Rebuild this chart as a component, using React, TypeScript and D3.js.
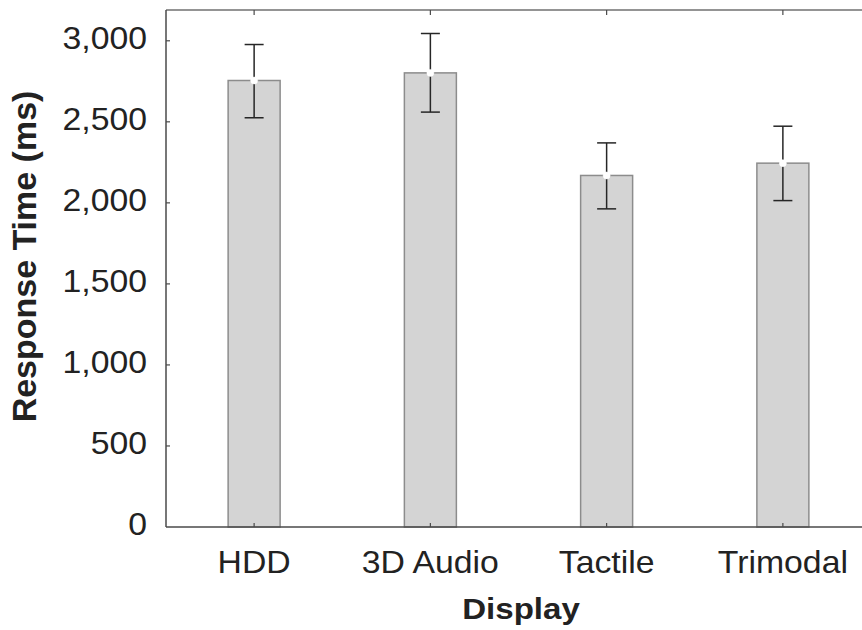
import React from "react";
import * as d3 from "d3";

const categories = ["HDD", "3D Audio", "Tactile", "Trimodal"];
const means = [2755, 2802, 2169, 2245];
const upper = [2977, 3045, 2370, 2473];
const lower = [2525, 2560, 1963, 2014];
const yTicks = [0, 500, 1000, 1500, 2000, 2500, 3000];

const W = 862;
const H = 630;
const left = 166;
const right = 871;
const top = 10;
const bottom = 527;
const FONT = "'Liberation Sans', Arial, Helvetica, sans-serif";

export default function App() {
  const x = d3.scaleBand<string>().domain(categories).range([left, right]).paddingInner(0.705).paddingOuter(0.3525);
  const y = d3.scaleLinear().domain([0, 3190]).range([bottom, top]);
  const fmt = d3.format(",");
  const bw = x.bandwidth();
  const axisColor = "#4a4a4a";
  return (
    <svg width={W} height={H} style={{ position: "absolute", left: 0, top: 0, background: "#fff" }}>
      {/* bars */}
      {categories.map((c, i) => (
        <rect key={c} x={x(c)!} y={y(means[i])} width={bw} height={bottom - y(means[i])}
          fill="#d4d4d4" stroke="#8c8c8c" strokeWidth={1.5} />
      ))}
      {/* error bars */}
      {categories.map((c, i) => {
        const cx = x(c)! + bw / 2;
        return (
          <g key={c} stroke="#262626" strokeWidth={1.5}>
            <line x1={cx} x2={cx} y1={y(upper[i])} y2={y(lower[i])} />
            <line x1={cx - 9.5} x2={cx + 9.5} y1={y(upper[i])} y2={y(upper[i])} />
            <line x1={cx - 9.5} x2={cx + 9.5} y1={y(lower[i])} y2={y(lower[i])} />
            <circle cx={cx} cy={y(means[i])} r={3.5} fill="#fff" stroke="#fff" strokeWidth={0.5} />
          </g>
        );
      })}
      {/* frame */}
      <line x1={left} x2={W} y1={top} y2={top} stroke="#707070" strokeWidth={1.5} />
      <line x1={left} x2={W} y1={bottom} y2={bottom} stroke={axisColor} strokeWidth={1.5} />
      <line x1={left} x2={left} y1={top} y2={bottom} stroke={axisColor} strokeWidth={1.5} />
      {/* y ticks */}
      {yTicks.map((t) => (
        <g key={t}>
          {t > 0 && <line x1={left} x2={left + 4} y1={y(t)} y2={y(t)} stroke={axisColor} strokeWidth={1.2} />}
          <text transform={`translate(${left - 19},${y(t) + 8}) scale(1.09,1)`} textAnchor="end"
            fontFamily={FONT} fontSize={31} fill="#222">{fmt(t)}</text>
        </g>
      ))}
      {/* x ticks */}
      {categories.map((c) => {
        const cx = x(c)! + bw / 2;
        return (
          <g key={c}>
            <line x1={cx} x2={cx} y1={top} y2={top + 5} stroke={axisColor} strokeWidth={1.2} />
            <line x1={cx} x2={cx} y1={bottom} y2={bottom - 4} stroke={axisColor} strokeWidth={1.2} />
            <text transform={`translate(${cx},572.5) scale(1.09,1)`} textAnchor="middle"
              fontFamily={FONT} fontSize={31} fill="#222">{c}</text>
          </g>
        );
      })}
      {/* axis titles */}
      <text transform={`translate(521,618.5) scale(1.14,1)`} textAnchor="middle" fontFamily={FONT}
        fontSize={29} fontWeight="bold" fill="#222">Display</text>
      <text transform={`translate(36,256.5) rotate(-90) scale(1.03,1)`} textAnchor="middle" fontFamily={FONT}
        fontSize={33} fontWeight="bold" fill="#222">Response Time (ms)</text>
    </svg>
  );
}
